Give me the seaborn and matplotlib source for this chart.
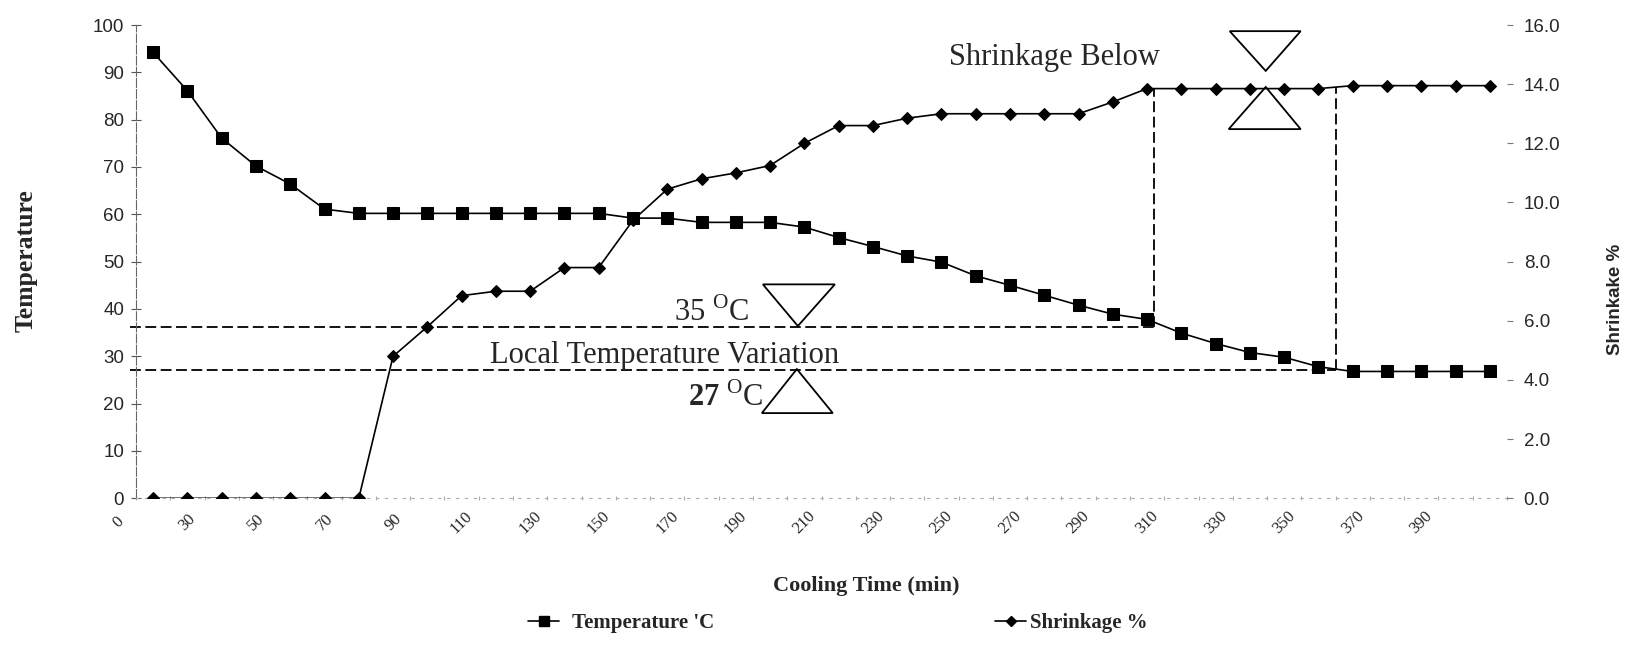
import matplotlib
matplotlib.use("Agg")
import matplotlib.pyplot as plt
import seaborn as sns
import numpy as np
from matplotlib.patches import Polygon
from matplotlib.lines import Line2D

# ---------------- data ----------------
minutes = [20, 30, 40, 50, 60, 70, 80, 90, 100, 110, 120, 130, 140, 150, 160, 170,
           180, 190, 200, 210, 220, 230, 240, 250, 260, 270, 280, 290, 300, 310,
           320, 330, 340, 350, 360, 370, 380, 390, 400, 410]
temperature = [94.2, 86.1, 76.1, 70.2, 66.4, 61.1, 60.2, 60.2, 60.2, 60.2, 60.2, 60.2,
               60.2, 60.2, 59.2, 59.2, 58.3, 58.3, 58.3, 57.3, 55.1, 53.2, 51.2, 49.9,
               47.0, 45.0, 42.9, 40.8, 38.9, 37.8, 34.9, 32.7, 30.8, 29.8, 27.8, 26.8,
               26.8, 26.8, 26.8, 26.8]
shrinkage = [0, 0, 0, 0, 0, 0, 0, 4.8, 5.8, 6.85, 7.0, 7.0, 7.8, 7.8, 9.4, 10.45,
             10.8, 11.0, 11.25, 12.0, 12.6, 12.6, 12.85, 13.0, 13.0, 13.0, 13.0, 13.0,
             13.4, 13.85, 13.85, 13.85, 13.85, 13.85, 13.85, 13.95, 13.95, 13.95, 13.95, 13.95]
tick_pos = [10, 30, 50, 70, 90, 110, 130, 150, 170, 190, 210, 230, 250, 270, 290,
            310, 330, 350, 370, 390]
tick_labels = ["0", "30", "50", "70", "90", "110", "130", "150", "170", "190", "210",
               "230", "250", "270", "290", "310", "330", "350", "370", "390"]
temp_ticks = [0, 10, 20, 30, 40, 50, 60, 70, 80, 90, 100]
shrink_ticks = [0, 2, 4, 6, 8, 10, 12, 14, 16]

# annotation reference levels (temperature scale)
upper_level = 36.2
lower_level = 27.2
shrink_level_t = 86.6

sns.set_style("white")
plt.rcParams['font.family'] = ['Liberation Sans', 'DejaVu Sans']
plt.rcParams['mathtext.fontset'] = 'custom'
plt.rcParams['mathtext.rm'] = 'Liberation Serif'
plt.rcParams['mathtext.bf'] = 'Liberation Serif:bold'

fig = plt.figure(figsize=(16.34, 6.55), dpi=100)
ax = fig.add_axes([136/1634, 1-498.3/655, 1371/1634, 473.3/655])
ax2 = ax.twinx()
ax2.set_zorder(ax.get_zorder() + 1)
ax2.patch.set_visible(False)

sns.lineplot(x=minutes, y=temperature, ax=ax, color='black', marker='s',
             markersize=8, linewidth=1.2, markeredgecolor='black')
sns.lineplot(x=minutes, y=shrinkage, ax=ax2, color='black', marker='D',
             markersize=6, linewidth=1.2, markeredgecolor='black')
for a in (ax, ax2):
    if a.get_legend() is not None:
        a.get_legend().remove()

ax.set_xlim(15, 415)
ax.set_ylim(0, 100)
ax2.set_ylim(0, 16)

# left axis
ax.set_yticks(temp_ticks)
ax.set_yticklabels([str(t) for t in temp_ticks], fontsize=13.5, family='Liberation Sans')
ax.tick_params(axis='y', direction='inout', length=7, width=0.8, color='#555', pad=5, left=True)
# bottom axis
ax.set_xticks(np.arange(15, 420, 10))
ax.set_xticklabels([])
ax.tick_params(axis='x', direction='inout', length=3, width=0.8, color='#aaa', bottom=True)
for s in ('top', 'right'):
    ax.spines[s].set_visible(False)
    ax2.spines[s].set_visible(False)
ax2.spines['left'].set_visible(False)
ax2.spines['bottom'].set_visible(False)
ax.spines['left'].set_color('#666')
ax.spines['left'].set_linewidth(0.8)
ax.spines['left'].set_linestyle((0, (8, 2)))
ax.spines['bottom'].set_color('#aaa')
ax.spines['bottom'].set_linewidth(0.8)
ax.spines['bottom'].set_linestyle((0, (2, 6)))

for xp, lab in zip(tick_pos, tick_labels):
    ax.text(xp, -0.051, lab, transform=ax.get_xaxis_transform(), rotation=45,
            ha='center', va='center', rotation_mode='anchor', fontsize=12,
            family='Liberation Serif', clip_on=False)

# right axis
ax2.set_yticks(shrink_ticks)
ax2.set_yticklabels([f"{v:.1f}" for v in shrink_ticks], fontsize=13.5, family='Liberation Sans')
ax2.tick_params(axis='y', direction='out', length=4, width=0.8, color='#777', pad=8, right=True)

# axis labels
ax.set_ylabel("Temperature", fontsize=18.5, family='Liberation Serif', fontweight='bold')
ax.yaxis.set_label_coords(-0.0715, 0.503)
ax2.set_ylabel("Shrinkake %", fontsize=13.5, family='Liberation Sans', fontweight='bold')
ax2.yaxis.set_label_coords(1.073, 0.42)
ax.set_xlabel("Cooling Time (min)", fontsize=16, family='Liberation Serif', fontweight='bold')
ax.xaxis.set_label_coords(0.5325, -0.165)

# dashed reference lines
dash = (0, (6, 2.5))
ax.plot([13.2, 312], [upper_level, upper_level], ls=dash, lw=1.3, color='black', clip_on=False)
ax.plot([13.2, 365], [lower_level, lower_level], ls=dash, lw=1.3, color='black', clip_on=False)
ax.plot([312, 312], [upper_level, shrink_level_t], ls=dash, lw=1.3, color='black')
ax.plot([365, 365], [lower_level, shrink_level_t + 0.3], ls=dash, lw=1.3, color='black')

# triangles
tris = [
    [(197.9, 45.2), (218.9, 45.2), (208.1, 36.4)],
    [(207.8, 27.3), (197.6, 18.0), (218.3, 18.0)],
    [(334.1, 98.7), (354.8, 98.7), (344.6, 90.3)],
    [(344.6, 86.9), (333.8, 78.0), (354.8, 78.0)],
]
for t in tris:
    ax.add_patch(Polygon(t, closed=True, fill=False, edgecolor='black', lw=1.3,
                         clip_on=False, zorder=5))

# annotation texts
ax.text(194.0, 37.5, r"35 $^{\mathrm{O}}$C", ha='right', va='baseline', fontsize=22,
        family='Liberation Serif')
ax.text(197.9, 19.6, r"$\mathbf{27}$ $^{\mathrm{O}}$C", ha='right', va='baseline', fontsize=22,
        family='Liberation Serif')
ax.text(169.3, 28.6, "Local Temperature Variation", ha='center', va='baseline', fontsize=22,
        family='Liberation Serif')
ax.text(283.1, 91.5, "Shrinkage Below", ha='center', va='baseline', fontsize=22,
        family='Liberation Serif')

# legend
h1 = Line2D([], [], color='black', marker='s', markersize=7, lw=1.2)
h2 = Line2D([], [], color='black', marker='D', markersize=5.5, lw=1.2)
legprops = dict(size=15, family='Liberation Serif', weight='bold')
fig.legend(handles=[h1], labels=["Temperature 'C"], loc='center left',
           bbox_to_anchor=(528/1634, 1-623/655), frameon=False, prop=legprops,
           handlelength=1.5, handletextpad=0.6, borderpad=0, borderaxespad=0)
fig.legend(handles=[h2], labels=["Shrinkage %"], loc='center left',
           bbox_to_anchor=(995/1634, 1-623/655), frameon=False, prop=legprops,
           handlelength=1.5, handletextpad=0.2, borderpad=0, borderaxespad=0)

fig.savefig("out.png", dpi=100)
